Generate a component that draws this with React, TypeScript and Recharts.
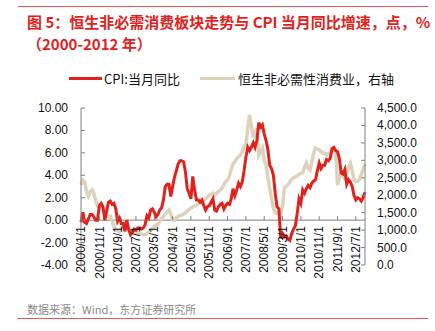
import React from "react";
import { LineChart, Line, XAxis, YAxis, ReferenceLine } from "recharts";

const cpi: number[] = [
  -0.2, 0.7, -0.2, -0.3, 0.1, 0.5, 0.5, 0.3, 0.0, 0.0, 1.3, 1.5,
  1.2, 0.0, 0.8, 1.6, 1.7, 1.4, 1.5, 1.0, -0.1, 0.2, -0.3, -0.3,
  -1.0, 0.0, -0.8, -1.3, -1.1, -0.8, -0.9, -0.7, -0.7, -0.8, -0.7, -0.4,
  0.4, 0.2, 0.9, 1.0, 0.7, 0.3, 0.5, 0.9, 1.1, 1.8, 3.0, 3.2,
  3.2, 2.1, 3.0, 3.8, 4.4, 5.0, 5.3, 5.3, 5.2, 4.3, 2.8, 2.4,
  1.9, 3.9, 2.7, 1.8, 1.8, 1.6, 1.8, 1.3, 0.9, 1.2, 1.3, 1.6,
  1.9, 0.9, 0.8, 1.2, 1.4, 1.5, 1.0, 1.3, 1.5, 1.4, 1.9, 2.8,
  2.2, 2.7, 3.3, 3.0, 3.4, 4.4, 5.6, 6.5, 6.2, 6.5, 6.9, 6.5,
  7.1, 8.7, 8.3, 8.5, 7.7, 7.1, 6.3, 4.9, 4.6, 4.0, 2.4, 1.2,
  1.0, -1.6, -1.2, -1.5, -1.4, -1.7, -1.8, -1.2, -0.8, -0.5, 0.6, 1.9,
  1.5, 2.7, 2.4, 2.8, 3.1, 2.9, 3.3, 3.5, 3.6, 4.4, 5.1, 4.6,
  4.9, 4.9, 5.4, 5.3, 5.5, 6.4, 6.5, 6.2, 6.1, 5.5, 4.2, 4.1,
  4.5, 3.2, 3.6, 3.4, 3.0, 2.2, 1.8, 2.0, 1.9, 1.7, 2.0, 2.5,
];

const consumer: number[] = [
  2300, 2430, 2380, 2100, 1980, 2100, 2150, 2050, 1850, 1700, 1630, 1720,
  1560, 1490, 1420, 1390, 1400, 1250, 1100, 1020, 980, 955, 1050, 1150,
  1200, 1100, 1000, 960, 945, 930, 920, 915, 900, 880, 875, 870,
  900, 950, 1000, 1050, 1100, 1150, 1170, 1250, 1330, 1390, 1450, 1520,
  1575, 1450, 1300, 1290, 1350, 1400, 1420, 1430, 1460, 1500, 1550, 1600,
  1630, 1670, 1690, 1720, 1760, 1790, 1815, 1850, 1900, 1950, 2000, 2030,
  2060, 2000, 2050, 2100, 2150, 2200, 2300, 2400, 2430, 2550, 2750, 2900,
  2960, 3050, 3100, 3150, 3250, 3400, 3450, 3900, 4300, 4000, 3640, 3800,
  3925, 3150, 3250, 3350, 3000, 2865, 2500, 2200, 1900, 1630, 1500, 1490,
  1460, 1440, 1700, 2200, 2250, 2300, 2390, 2450, 2500, 2530, 2550, 2600,
  2630, 2650, 2800, 2920, 2780, 2720, 2950, 3200, 3350, 3320, 3300, 3250,
  3200, 3200, 3150, 3200, 3200, 3250, 3300, 3200, 2290, 2500, 2675, 2550,
  2480, 2650, 2800, 2920, 2700, 2450, 2390, 2400, 2450, 2600, 2750, 2900,
];

const years: number[] = [2000, 2001, 2002, 2003, 2004, 2005, 2006, 2007, 2008, 2009, 2010, 2011, 2012];
const months: number[] = [1, 2, 3, 4, 5, 6, 7, 8, 9, 10, 11, 12];

const leftTicks: number[] = [-4, -2, 0, 2, 4, 6, 8, 10];
const rightTicks: number[] = [0, 500, 1000, 1500, 2000, 2500, 3000, 3500, 4000, 4500];

const dates: string[] = [];
years.forEach((y) => months.forEach((m) => dates.push(`${y}/${m}/1`)));

const data = dates.map((d, i) => ({ date: d, cpi: cpi[i], consumer: consumer[i] }));

const RED = "#e3211c";
const TAN = "#ddd2bb";
const AXIS = "#808080";
const FONT = "Arial, 'Liberation Sans', 'Noto Sans CJK SC', sans-serif";
const CJK = "'Noto Sans CJK SC', sans-serif";

const W = 435;
const H = 331;
const TOP = 108;
const BOTTOM = 265;
const PLOT_H = BOTTOM - TOP;
const LMIN = -4;
const LMAX = 10;

const LeftTick = (props: any) => {
  const { x, y, payload } = props;
  return (
    <g>
      <line x1={x + 13} x2={x + 17} y1={y} y2={y} stroke={AXIS} strokeWidth={1} />
      <text x={x} y={y} textAnchor="end" dominantBaseline="central" fontSize={12} fontFamily={FONT} fill="#111">
        {Number(payload.value).toFixed(2)}
      </text>
    </g>
  );
};

const RightTick = (props: any) => {
  const { x, y, payload } = props;
  const v = Number(payload.value).toLocaleString("en-US", { minimumFractionDigits: 1, maximumFractionDigits: 1 });
  return (
    <g>
      <line x1={x - 16} x2={x - 12} y1={y} y2={y} stroke={AXIS} strokeWidth={1} />
      <text x={x} y={y} textAnchor="start" dominantBaseline="central" fontSize={12} fontFamily={FONT} fill="#111">
        {v}
      </text>
    </g>
  );
};

const BottomTick = (props: any) => {
  const { x, y, payload } = props;
  const zeroY = y - (PLOT_H * (0 - LMIN)) / (LMAX - LMIN);
  return (
    <g>
      <line x1={x} x2={x} y1={zeroY} y2={zeroY - 4} stroke={AXIS} strokeWidth={1} />
      <text
        x={x}
        y={zeroY + 6}
        transform={`rotate(-90 ${x} ${zeroY + 6})`}
        textAnchor="end"
        dy="0.35em"
        fontSize={12}
        fontFamily={FONT}
        fill="#111"
      >
        {payload.value}
      </text>
    </g>
  );
};

export default function App() {
  return (
    <div style={{ position: "absolute", left: 0, top: 0, width: W, height: H, background: "#fff", overflow: "hidden" }}>
      <div style={{ position: "absolute", left: 18, top: 6, width: 410, height: 1, background: "#e8574f" }} />
      <div
        style={{
          position: "absolute",
          left: 27,
          top: 11,
          fontFamily: CJK,
          fontWeight: 700,
          fontSize: 15,
          lineHeight: "22px",
          color: RED,
          whiteSpace: "nowrap",
        }}
      >
        图 5：恒生非必需消费板块走势与 CPI 当月同比增速，点，%
        <br />
        （2000-2012 年）
      </div>

      <div style={{ position: "absolute", left: 69, top: 69, height: 18, display: "flex", alignItems: "center", fontFamily: CJK, fontSize: 13, color: "#111", whiteSpace: "nowrap" }}>
        <span style={{ display: "inline-block", width: 33, height: 3, background: RED, marginRight: 2 }} />
        <span>CPI:当月同比</span>
        <span style={{ display: "inline-block", width: 35, height: 3, background: TAN, marginLeft: 20, marginRight: 3 }} />
        <span>恒生非必需性消费业，右轴</span>
      </div>

      <div style={{ position: "absolute", left: 0, top: 0 }}>
        <LineChart width={W} height={H} data={data} margin={{ top: TOP, right: 0, bottom: 0, left: 0 }}>
          <XAxis
            dataKey="date"
            interval={9}
            height={H - BOTTOM}
            axisLine={false}
            tickLine={false}
            tickSize={0}
            tickMargin={0}
            tick={<BottomTick />}
          />
          <YAxis
            yAxisId="left"
            orientation="left"
            width={81}
            domain={[LMIN, LMAX]}
            ticks={leftTicks}
            interval={0}
            axisLine={{ stroke: AXIS }}
            tickLine={false}
            tickSize={0}
            tickMargin={13}
            tick={<LeftTick />}
          />
          <YAxis
            yAxisId="right"
            orientation="right"
            width={W - 365}
            domain={[0, 4500]}
            ticks={rightTicks}
            interval={0}
            axisLine={{ stroke: AXIS }}
            tickLine={false}
            tickSize={0}
            tickMargin={12}
            tick={<RightTick />}
          />
          <ReferenceLine yAxisId="left" y={0} stroke={AXIS} strokeWidth={1} />
          <Line
            yAxisId="right"
            dataKey="consumer"
            stroke={TAN}
            strokeWidth={3.5}
            dot={false}
            isAnimationActive={false}
          />
          <Line
            yAxisId="left"
            dataKey="cpi"
            stroke={RED}
            strokeWidth={3}
            dot={false}
            isAnimationActive={false}
          />
        </LineChart>
      </div>

      <div style={{ position: "absolute", left: 27, top: 301, fontFamily: CJK, fontSize: 11, color: "#8a8a8a", whiteSpace: "nowrap" }}>
        数据来源：Wind，东方证券研究所
      </div>
      <div style={{ position: "absolute", left: 17, top: 318, width: 411, height: 1, background: "#e8574f" }} />
    </div>
  );
}
